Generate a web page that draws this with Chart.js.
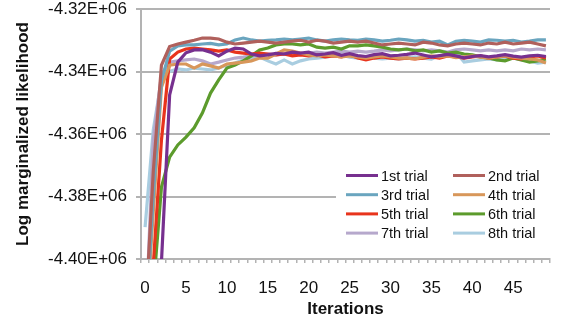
<!DOCTYPE html>
<html>
<head>
<meta charset="utf-8">
<script src="https://cdn.jsdelivr.net/npm/chart.js@4/dist/chart.umd.min.js"></script>
<style>
  body { margin: 0; background: #fff; }
  #wrap { width: 564px; height: 320px; }
</style>
</head>
<body>
<div id="wrap"><canvas id="canv" width="564" height="320"></canvas></div>
<script>
// iterations 0..49
const iterations = [];
for (let i = 0; i < 50; i++) iterations.push(i);

const trialNames = ['1st trial', '2nd trial', '3rd trial', '4th trial', '5th trial', '6th trial', '7th trial', '8th trial'];
const trialColors = ['#77308f', '#b0605c', '#6aa5bf', '#d8975a', '#e8341c', '#5c9b2c', '#b6a8cc', '#a9cde0'];

const yTicks = [-4400000, -4380000, -4360000, -4340000, -4320000];

const trial1 = [-4430000, -4425000, -4401000, -4347500, -4337000, -4334000, -4333100, -4333000, -4333800, -4335000,
  -4333500, -4332500, -4332800, -4334400, -4335000, -4334700, -4334200, -4334400, -4333800, -4334100,
  -4333800, -4334700, -4334400, -4334000, -4334800, -4334300, -4334900, -4335200, -4334600, -4334300,
  -4335000, -4334800, -4334500, -4334100, -4334700, -4335300, -4334900, -4334500, -4335000, -4335600,
  -4335200, -4334900, -4335300, -4335000, -4334600, -4335100, -4335400, -4335000, -4334800, -4335200];
const trial2 = [-4420000, -4372000, -4338000, -4332000, -4331200, -4330600, -4330000, -4329300, -4329300, -4329600,
  -4330600, -4331200, -4330900, -4330600, -4330300, -4330600, -4330900, -4330600, -4330300, -4330000,
  -4330600, -4330000, -4330300, -4330900, -4330600, -4330300, -4330600, -4330300, -4330900, -4331500,
  -4331200, -4330900, -4331200, -4331500, -4330600, -4330900, -4331500, -4331800, -4331200, -4330900,
  -4331200, -4331500, -4330900, -4331200, -4330600, -4331200, -4330900, -4330600, -4331200, -4331800];
const trial3 = [-4425000, -4380000, -4343000, -4333500, -4331800, -4331500, -4331500, -4331200, -4331000, -4331500,
  -4331200, -4329900, -4329300, -4329900, -4330300, -4330000, -4329900, -4329600, -4329900, -4329600,
  -4329300, -4329900, -4330300, -4329900, -4329600, -4329900, -4330000, -4329600, -4329900, -4330300,
  -4330000, -4329600, -4329900, -4330300, -4330000, -4330600, -4330300, -4331500, -4330300, -4330000,
  -4330300, -4330600, -4329900, -4330000, -4330300, -4330000, -4330600, -4330300, -4329900, -4329900];
const trial4 = [-4425000, -4385000, -4345000, -4338000, -4337600, -4337600, -4338900, -4337600, -4338200, -4338900,
  -4337600, -4337300, -4337000, -4336600, -4335700, -4335700, -4334400, -4333100, -4333500, -4334100,
  -4334700, -4335000, -4334700, -4335000, -4335300, -4335000, -4335300, -4335700, -4335300, -4335000,
  -4335300, -4335700, -4335700, -4336000, -4335400, -4335000, -4335300, -4335000, -4335600, -4335300,
  -4335000, -4335400, -4335700, -4335300, -4335000, -4335400, -4335700, -4336000, -4336300, -4337300];
const trial5 = [-4430000, -4402000, -4362000, -4336000, -4333800, -4332800, -4332500, -4332800, -4333100, -4333500,
  -4333100, -4333800, -4334100, -4334400, -4334100, -4334400, -4334700, -4334400, -4335000, -4334700,
  -4335000, -4334700, -4335300, -4335000, -4335300, -4334700, -4335700, -4336300, -4335700, -4335300,
  -4335700, -4336000, -4335700, -4336000, -4335700, -4335300, -4335700, -4335000, -4335300, -4335700,
  -4335300, -4335000, -4335700, -4335300, -4335000, -4335700, -4336000, -4335300, -4335000, -4335700];
const trial6 = [-4430000, -4410000, -4377000, -4367400, -4363500, -4361000, -4358000, -4353300, -4346900, -4342700,
  -4338900, -4337900, -4336600, -4335000, -4333100, -4332500, -4331500, -4331200, -4331200, -4331500,
  -4331200, -4332200, -4332500, -4332200, -4332800, -4331800, -4331800, -4331500, -4331800, -4332200,
  -4332800, -4333100, -4332800, -4333400, -4333100, -4333800, -4333400, -4334100, -4333800, -4334400,
  -4334700, -4335300, -4335700, -4336300, -4336600, -4335700, -4336300, -4337000, -4336600, -4336000];
const trial7 = [-4425000, -4362000, -4341000, -4337000, -4336600, -4336300, -4336000, -4336600, -4337600, -4337000,
  -4336300, -4335700, -4335400, -4335000, -4334700, -4334400, -4334700, -4334400, -4334100, -4334400,
  -4334100, -4333800, -4334100, -4333800, -4333500, -4333800, -4333500, -4333800, -4333500, -4333100,
  -4333400, -4333100, -4332800, -4333100, -4333400, -4333100, -4333400, -4333800, -4333100, -4332800,
  -4333100, -4333400, -4333100, -4333400, -4333100, -4333400, -4332800, -4333100, -4332800, -4333100];
const trial8 = [-4389800, -4358700, -4342700, -4340000, -4339200, -4339500, -4338900, -4339200, -4339500, -4338900,
  -4337900, -4337300, -4336300, -4335700, -4335400, -4336600, -4337600, -4336300, -4337600, -4336600,
  -4336000, -4335700, -4335400, -4335000, -4334700, -4335400, -4335700, -4335400, -4335700, -4336000,
  -4335700, -4336000, -4335700, -4335300, -4335700, -4336000, -4335000, -4335000, -4333800, -4337000,
  -4336600, -4336300, -4336000, -4336300, -4336000, -4335700, -4336300, -4336600, -4337300, -4337000];

const trials = [trial1, trial2, trial3, trial4, trial5, trial6, trial7, trial8];

const FONT = '"Liberation Sans", Arial, Helvetica, sans-serif';
const GRID = '#b3b3b3';

// legend drawn inside the plot, bottom right, on a white box
const boxLegend = {
    id: 'boxLegend',
    afterDatasetsDraw(chart) {
        const ctx = chart.ctx;
        const area = chart.chartArea;
        const x0 = area.right - 214;
        const y0 = area.bottom - 110;
        ctx.save();
        ctx.fillStyle = '#fff';
        ctx.fillRect(x0, y0, 214, 102);
        ctx.font = '14.5px ' + FONT;
        ctx.textBaseline = 'middle';
        ctx.fillStyle = '#111';
        chart.data.datasets.forEach((ds, i) => {
            const col = i % 2, row = Math.floor(i / 2);
            const lx = x0 + 10 + col * 107;
            const ly = y0 + 26.5 + row * 19.2;
            ctx.strokeStyle = ds.borderColor;
            ctx.lineWidth = 3;
            ctx.beginPath();
            ctx.moveTo(lx, ly);
            ctx.lineTo(lx + 32, ly);
            ctx.stroke();
            ctx.fillText(ds.label, lx + 35, ly + 1);
        });
        ctx.restore();
    }
};

const ctx = document.getElementById('canv').getContext('2d');
new Chart(ctx, {
    type: 'line',
    data: {
        labels: iterations,
        datasets: trials.map((d, i) => ({
            label: trialNames[i],
            data: d,
            borderColor: trialColors[i],
            backgroundColor: trialColors[i],
            borderWidth: 3.2,
            pointRadius: 0,
            tension: 0
        }))
    },
    options: {
        responsive: false,
        animation: false,
        layout: { padding: { top: 0, right: 14, left: 0, bottom: 0 } },
        plugins: {
            legend: { display: false },
            tooltip: { enabled: false }
        },
        scales: {
            x: {
                type: 'category',
                offset: true,
                afterFit: s => { s.height = 61; },
                grid: { offset: true, drawOnChartArea: false, color: GRID, lineWidth: 1.5, tickLength: 4 },
                border: { color: GRID, width: 2 },
                ticks: {
                    autoSkip: false,
                    maxRotation: 0,
                    padding: 15,
                    color: '#111',
                    font: { family: FONT, size: 17 },
                    callback: (v, i) => (i % 5 === 0 ? String(iterations[i]) : '')
                },
                title: {
                    display: true,
                    text: 'Iterations',
                    color: '#111',
                    font: { family: FONT, size: 17, weight: 'bold' },
                    padding: { top: 0, bottom: 0 }
                }
            },
            y: {
                min: yTicks[0],
                max: yTicks[yTicks.length - 1],
                afterFit: s => { s.width = 141; s.paddingTop = 9; },
                afterBuildTicks: s => { s.ticks = yTicks.map(v => ({ value: v })); },
                grid: { color: GRID, lineWidth: 2, tickLength: 5 },
                border: { color: GRID, width: 2 },
                ticks: {
                    padding: 9,
                    color: '#111',
                    font: { family: FONT, size: 17 },
                    callback: v => (v / 1e6).toFixed(2) + 'E+06'
                },
                title: {
                    display: true,
                    text: 'Log marginalized likelihood',
                    color: '#111',
                    font: { family: FONT, size: 17, weight: 'bold' },
                    padding: { top: 13, bottom: 0 }
                }
            }
        }
    },
    plugins: [boxLegend]
});
</script>
</body>
</html>
